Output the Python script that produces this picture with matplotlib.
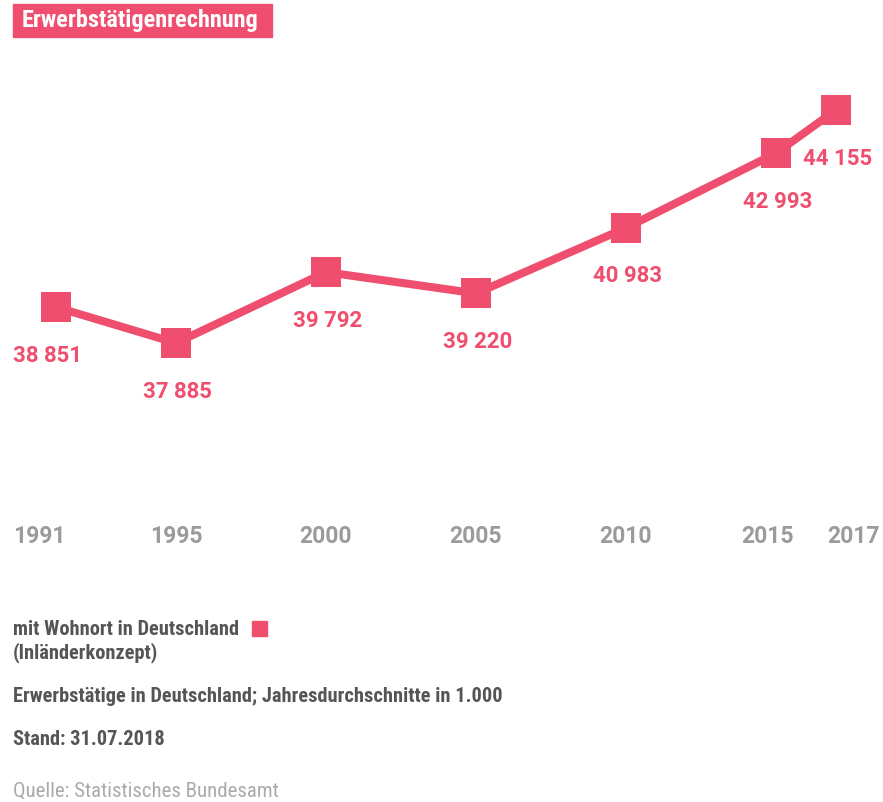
import matplotlib
matplotlib.use("Agg")
import matplotlib.pyplot as plt
from matplotlib.patches import Rectangle
from matplotlib.transforms import ScaledTranslation

years = [1991, 1995, 2000, 2005, 2010, 2015, 2017]
values = [38851, 37885, 39792, 39220, 40983, 42993, 44155]
tick_labels = ["1991", "1995", "2000", "2005", "2010", "2015", "2017"]
value_labels = ["38 851", "37 885", "39 792", "39 220", "40 983", "42 993", "44 155"]

title = "Erwerbstätigenrechnung"
legend_label = "mit Wohnort in Deutschland"
legend_label2 = "(Inländerkonzept)"
note = "Erwerbstätige in Deutschland; Jahresdurchschnitte in 1.000"
stand = "Stand: 31.07.2018"
source = "Quelle: Statistisches Bundesamt"

PINK = "#EF4E6E"
DARK = "#555555"
GREY = "#9B9B9B"
NARROW = ["Roboto Condensed", "DejaVu Sans"]
WIDE = ["Roboto", "DejaVu Sans"]

W, H = 883, 802
fig = plt.figure(figsize=(W / 100, H / 100), dpi=100)


def fy(px):
    return 1 - px / H


def fx(px):
    return px / W


# plot area, in pixels: top 60, bottom 515, full width
ax = fig.add_axes([0, fy(515), 1, (515 - 60) / H])
ax.set_xlim(1991 - 56 / 30, 2017 + 47 / 30)
ax.set_ylim(33256, 45501)
ax.plot(years, values, color=PINK, linewidth=5.8, marker="s", markersize=21,
        markeredgewidth=0, solid_joinstyle="miter", zorder=3)

for i, (x, y, lab) in enumerate(zip(years, values, value_labels)):
    dx = -6 if i == 0 else 1
    ax.annotate(lab, (x, y), xytext=(dx, -35), textcoords="offset points",
                ha="center", va="center", color=PINK, fontsize=16,
                fontweight="bold", family=WIDE)

ax.set_xticks(years)
ax.set_xticklabels(tick_labels, family=WIDE, fontweight="bold",
                   fontsize=16.5, color=GREY)
ax.tick_params(axis="x", length=0, pad=7.5)
# nudge crowded / edge tick labels sideways (pixels)
nudge = {0: -17, 5: -8, 6: 17}
for i, lab in enumerate(ax.get_xticklabels()):
    if i in nudge:
        lab.set_transform(lab.get_transform()
                          + ScaledTranslation(nudge[i] / 100, 0, fig.dpi_scale_trans))
ax.set_yticks([])
for s in ax.spines.values():
    s.set_visible(False)

# title box
fig.patches.append(Rectangle((fx(13), fy(37)), fx(259), 33 / H,
                             transform=fig.transFigure, color=PINK, zorder=0))
fig.text(fx(22), fy(21), title, ha="left", va="center", color="white",
         fontsize=17.5, fontweight="bold", family=NARROW)

# legend and notes
fig.text(fx(13), fy(635), legend_label, ha="left", va="baseline", color=DARK,
         fontsize=14.7, fontweight="bold", family=NARROW)
fig.patches.append(Rectangle((fx(252), fy(636)), fx(15), 15 / H,
                             transform=fig.transFigure, color=PINK))
fig.text(fx(13), fy(658), legend_label2, ha="left", va="baseline", color=DARK,
         fontsize=14.7, fontweight="bold", family=NARROW)
fig.text(fx(13), fy(702), note, ha="left", va="baseline", color=DARK,
         fontsize=14.7, fontweight="bold", family=NARROW)
fig.text(fx(13), fy(745), stand, ha="left", va="baseline", color=DARK,
         fontsize=14.7, fontweight="bold", family=NARROW)
fig.text(fx(13), fy(797), source, ha="left", va="baseline", color="#AAAAAA",
         fontsize=15, family=NARROW)

fig.savefig("out.png", dpi=100, facecolor="white")
